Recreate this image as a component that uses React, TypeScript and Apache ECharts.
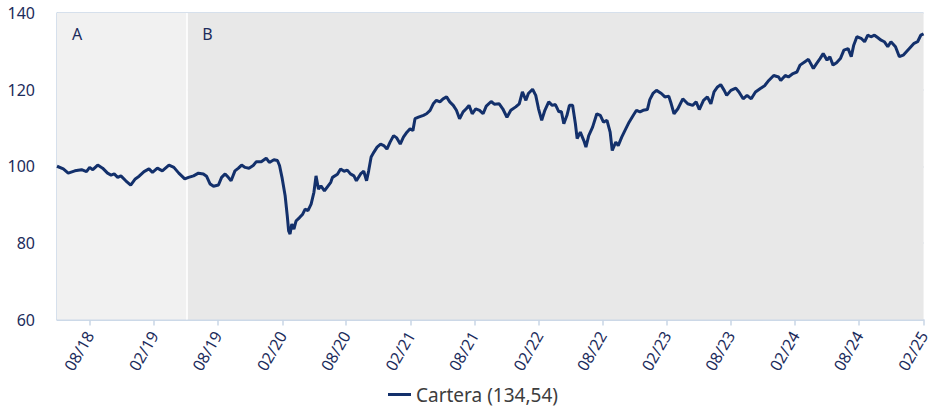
import React, { useEffect, useRef } from "react";
import * as echarts from "echarts";

const seriesName = "Cartera (134,54)";

const dates: string[] = [
  "2018-04-30","2018-05-18","2018-06-01","2018-06-20","2018-07-09","2018-07-23","2018-08-01","2018-08-10","2018-08-24","2018-09-07","2018-09-21","2018-10-01","2018-10-10","2018-10-20","2018-10-29","2018-11-12","2018-11-26","2018-12-09","2018-12-20",
  "2019-01-03","2019-01-17","2019-01-27","2019-02-10","2019-02-24","2019-03-15","2019-03-29","2019-04-12","2019-04-29","2019-05-10","2019-05-24","2019-06-07","2019-06-21","2019-06-30","2019-07-10","2019-07-20","2019-08-03","2019-08-12","2019-08-22","2019-08-31","2019-09-08","2019-09-19","2019-09-29","2019-10-08","2019-10-18","2019-10-29","2019-11-10","2019-11-19","2019-12-03","2019-12-17","2019-12-26",
  "2020-01-08","2020-01-18","2020-01-24","2020-01-31","2020-02-09","2020-02-15","2020-02-19","2020-02-23","2020-02-28","2020-03-05","2020-03-11","2020-03-21","2020-03-30","2020-04-06","2020-04-14","2020-04-23","2020-05-01","2020-05-07","2020-05-14","2020-05-21","2020-05-31","2020-06-09","2020-06-18","2020-06-23","2020-07-07","2020-07-16","2020-07-26","2020-08-04","2020-08-13","2020-08-23","2020-08-30","2020-09-11","2020-09-20","2020-09-28","2020-10-04","2020-10-11","2020-10-19","2020-10-28","2020-11-07","2020-11-16","2020-11-25","2020-12-04","2020-12-14","2020-12-23",
  "2021-01-02","2021-01-11","2021-01-21","2021-01-30","2021-02-07","2021-02-13","2021-02-23","2021-03-09","2021-03-18","2021-03-28","2021-04-06","2021-04-15","2021-04-25","2021-05-04","2021-05-14","2021-05-23","2021-06-02","2021-06-11","2021-06-20","2021-06-30","2021-07-09","2021-07-17","2021-07-26","2021-08-05","2021-08-16","2021-08-26","2021-09-04","2021-09-18","2021-09-27","2021-10-11","2021-10-21","2021-11-02","2021-11-13","2021-11-27","2021-12-07","2021-12-16","2021-12-26",
  "2022-01-02","2022-01-14","2022-01-23","2022-01-31","2022-02-09","2022-02-18","2022-03-01","2022-03-11","2022-03-20","2022-03-30","2022-04-06","2022-04-13","2022-04-22","2022-04-29","2022-05-08","2022-05-16","2022-05-21","2022-05-30","2022-06-09","2022-06-15","2022-06-23","2022-07-04","2022-07-16","2022-07-26","2022-08-04","2022-08-14","2022-08-23","2022-08-29","2022-09-08","2022-09-15","2022-09-25","2022-10-04","2022-10-16","2022-10-28","2022-11-06","2022-11-16","2022-11-25","2022-12-07","2022-12-14","2022-12-23",
  "2023-01-02","2023-01-16","2023-01-26","2023-02-06","2023-02-13","2023-02-21","2023-03-04","2023-03-18","2023-04-01","2023-04-15","2023-04-25","2023-05-04","2023-05-16","2023-05-27","2023-06-06","2023-06-15","2023-06-25","2023-07-04","2023-07-14","2023-07-21","2023-08-02","2023-08-16","2023-08-25","2023-09-06","2023-09-17","2023-09-29","2023-10-11","2023-10-25","2023-11-06","2023-11-18","2023-12-02","2023-12-16","2023-12-22",
  "2024-01-04","2024-01-13","2024-01-26","2024-02-06","2024-02-15","2024-02-29","2024-03-10","2024-03-24","2024-04-02","2024-04-12","2024-04-21","2024-05-02","2024-05-10","2024-05-19","2024-05-29","2024-06-09","2024-06-19","2024-07-01","2024-07-10","2024-07-17","2024-07-26","2024-08-07","2024-08-17","2024-08-26","2024-09-04","2024-09-14","2024-09-23","2024-10-03","2024-10-12","2024-10-22","2024-10-31","2024-11-13","2024-11-24","2024-12-05","2024-12-14","2024-12-27",
  "2025-01-05","2025-01-15","2025-01-24","2025-02-01"
];

const values: number[] = [
  100.0, 99.3, 98.2, 98.8, 99.1, 98.6, 99.7, 99.1, 100.3, 99.5, 98.2, 97.7, 98.0, 97.1, 97.5, 96.2, 95.1, 96.7, 97.4,
  98.6, 99.3, 98.4, 99.5, 98.8, 100.3, 99.7, 98.2, 96.7, 97.1, 97.5, 98.2, 98.0, 97.4, 95.4, 94.8, 95.1, 97.1, 98.0, 97.1, 96.2, 98.8, 99.5, 100.3, 99.7, 99.5, 100.2, 101.2, 101.2, 102.1, 101.0,
  101.7, 101.5, 100.2, 97.1, 92.3, 87.1, 83.1, 82.3, 84.9, 83.6, 85.7, 86.6, 87.5, 88.8, 88.4, 90.1, 93.2, 97.5, 94.0, 94.9, 93.6, 94.7, 95.8, 97.1, 97.9, 99.3, 98.7, 99.0, 98.0, 97.5, 96.2, 98.0, 98.7, 96.2, 98.8, 102.4, 103.7, 105.0, 105.8, 105.4, 104.5, 106.3, 108.0, 107.4,
  105.8, 107.6, 108.9, 109.8, 109.3, 112.4, 112.8, 113.3, 113.7, 114.6, 116.3, 117.2, 116.8, 117.6, 118.1, 116.8, 115.9, 114.6, 112.4, 114.2, 115.0, 115.9, 113.7, 115.0, 114.6, 113.7, 115.7, 116.9, 116.2, 116.3, 115.0, 112.8, 114.6, 115.5, 116.3, 119.4, 117.2,
  119.0, 120.1, 118.5, 115.0, 112.0, 114.6, 116.8, 115.9, 116.1, 114.2, 114.3, 111.1, 113.3, 115.9, 115.9, 111.1, 107.2, 108.9, 106.7, 105.0, 108.0, 110.2, 113.7, 113.3, 111.5, 112.0, 108.9, 104.1, 106.3, 105.4, 107.6, 109.3, 111.5, 113.3, 114.6, 114.2, 114.6, 114.8, 117.4, 119.0,
  119.8, 119.0, 118.1, 118.3, 116.3, 113.7, 115.0, 117.6, 116.3, 115.9, 116.8, 114.8, 117.2, 118.1, 116.3, 119.4, 120.7, 121.3, 119.8, 118.5, 119.8, 120.4, 119.4, 117.6, 118.5, 117.6, 119.4, 120.3, 121.0, 122.4, 123.7, 123.3, 122.4,
  123.7, 123.3, 124.2, 124.6, 126.4, 127.3, 127.9, 125.5, 126.8, 128.1, 129.4, 127.7, 128.6, 126.4, 127.0, 128.1, 130.3, 130.7, 128.6, 131.6, 133.8, 133.4, 132.5, 134.2, 133.8, 134.2, 133.6, 132.9, 132.5, 131.2, 132.5, 131.2, 128.6, 129.0, 129.9, 131.2,
  132.1, 132.5, 134.2, 134.54
];

const xStart = "2018-04-30";
const xEnd = "2025-02-01";
const regionNames = ["A", "B"];
const regionBounds = ["2018-04-30", "2019-05-06", "2025-02-01"];
const tickDates = [
  "2018-08-01","2019-02-01","2019-08-01","2020-02-01","2020-08-01","2021-02-01","2021-08-01",
  "2022-02-01","2022-08-01","2023-02-01","2023-08-01","2024-02-01","2024-08-01","2025-02-01"
];
const yTicks = [60, 80, 100, 120, 140];

const NAVY = "#1c2c5c";
const LINE = "#13306b";
const GRID = "#c9d6e6";
const FONT = "'Noto Sans', sans-serif";

function toTs(s: string): number {
  const [y, m, d] = s.split("-").map(Number);
  return new Date(y, m - 1, d).getTime();
}

export default function App() {
  const ref = useRef<HTMLDivElement>(null);

  useEffect(() => {
    document.body.style.margin = "0";
    if (!ref.current) return;
    const chart = echarts.init(ref.current, undefined, { renderer: "svg" });
    const data = dates.map((d, i) => [toTs(d), values[i]]);
    const tickTs = tickDates.map(toTs);
    const regionColors = ["#f1f1f1", "#e8e8e8"];

    chart.setOption({
      animation: false,
      textStyle: { fontFamily: FONT },
      grid: { left: 57, right: 1, top: 13, bottom: 87.5, containLabel: false },
      legend: {
        data: [seriesName],
        left: 383,
        top: 380,
        icon: "rect",
        itemWidth: 23,
        itemHeight: 3,
        itemGap: 8,
        textStyle: { color: "#3d3d3d", fontSize: 19, fontFamily: FONT },
      },
      xAxis: {
        type: "value",
        min: toTs(xStart),
        max: toTs(xEnd),
        axisLine: { show: true, lineStyle: { color: GRID, width: 1.5 } },
        axisTick: {
          show: true,
          customValues: tickTs,
          length: 6,
          lineStyle: { color: GRID, width: 1.5 },
        },
        axisLabel: {
          customValues: tickTs,
          rotate: 60,
          margin: 13,
          color: NAVY,
          fontSize: 16,
          fontFamily: FONT,
          showMinLabel: true,
          showMaxLabel: true,
          formatter: (v: number) => {
            const dt = new Date(v);
            const mm = String(dt.getMonth() + 1).padStart(2, "0");
            const yy = String(dt.getFullYear() % 100).padStart(2, "0");
            return `${mm}/${yy}`;
          },
        },
        splitLine: { show: false },
      },
      yAxis: {
        type: "value",
        min: yTicks[0],
        max: yTicks[yTicks.length - 1],
        interval: 20,
        axisLine: { show: true, lineStyle: { color: GRID, width: 1.5 } },
        axisTick: { show: false },
        axisLabel: { color: NAVY, fontSize: 16, margin: 22, fontFamily: FONT },
        splitLine: { show: true, lineStyle: { color: GRID, width: 1.5 } },
      },
      series: [
        {
          name: seriesName,
          type: "line",
          data,
          showSymbol: false,
          symbol: "none",
          lineStyle: { color: LINE, width: 3 },
          itemStyle: { color: LINE },
          z: 5,
          markArea: {
            silent: true,
            label: { show: false },
            data: regionNames.map((n, i) => [
              {
                name: n,
                xAxis: toTs(regionBounds[i]),
                itemStyle: { color: regionColors[i] },
              },
              { xAxis: toTs(regionBounds[i + 1]) },
            ]),
          },
          markLine: {
            silent: true,
            symbol: "none",
            label: { show: false },
            lineStyle: { color: "#ffffff", width: 1.5, type: "solid" },
            data: [{ xAxis: toTs(regionBounds[1]) }],
          },
        },
      ],
    });

    const topY = chart.convertToPixel({ yAxisIndex: 0 }, yTicks[yTicks.length - 1]) as number;
    chart.setOption({
      graphic: regionNames.map((n, i) => {
        const x0 = chart.convertToPixel({ xAxisIndex: 0 }, toTs(regionBounds[i])) as number;
        return {
          type: "text",
          x: x0 + 15,
          y: topY + 13,
          z: 10,
          silent: true,
          style: {
            text: n,
            fill: NAVY,
            fontSize: 16,
            fontFamily: FONT,
            verticalAlign: "top",
            align: "left",
          },
        };
      }),
    });

    return () => chart.dispose();
  }, []);

  return <div ref={ref} style={{ width: 932, height: 407 }} />;
}
